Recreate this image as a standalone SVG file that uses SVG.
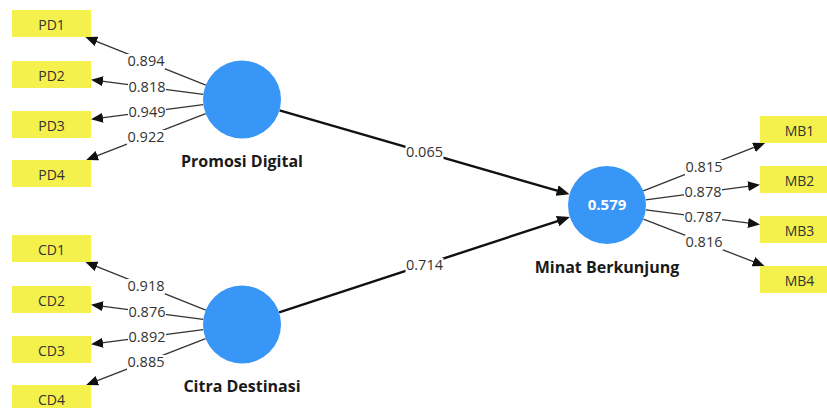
<svg xmlns="http://www.w3.org/2000/svg" width="827" height="408" viewBox="0 0 827 408">
<defs>
<style>
.ind rect{fill:#F5F14C;}
.ind text{font-family:"Open Sans","Noto Sans",sans-serif;font-size:14px;fill:#333;text-anchor:middle;}
.lv circle{fill:#3796F6;}
.lv text.name{font-family:"Open Sans","Noto Sans",sans-serif;font-size:16px;font-weight:bold;fill:#1a1a1a;text-anchor:middle;}
.lv text.r2{font-family:"Open Sans","Noto Sans",sans-serif;font-size:15px;font-weight:bold;fill:#fff;text-anchor:middle;}
.m{stroke:#333;stroke-width:1.3;fill:none;marker-end:url(#ah);}
.s{stroke:#111;stroke-width:2.4;fill:none;marker-end:url(#ahs);}
.lb rect{fill:#fff;}
.lb text{font-family:"Open Sans","Noto Sans",sans-serif;font-size:14.5px;fill:#333;text-anchor:middle;}
</style>
<marker id="ah" markerUnits="userSpaceOnUse" markerWidth="12" markerHeight="10" refX="9" refY="5" orient="auto"><path d="M0,0 L12,5 L0,10 z" fill="#111"/></marker>
<marker id="ahs" markerUnits="userSpaceOnUse" markerWidth="13" markerHeight="11" refX="9" refY="5.5" orient="auto"><path d="M0,0 L13,5.5 L0,11 z" fill="#111"/></marker>
</defs>
<rect width="827" height="408" fill="#fff"/>
<g id="connectors">
<path class="m" d="M205.8,85.05 L88.2,38.1"/>
<path class="m" d="M203.3,94.4 L94.0,80.1"/>
<path class="m" d="M203.3,104.6 L94.0,118.9"/>
<path class="m" d="M205.65,113.6 L89.0,158.9"/>
<path class="m" d="M205.8,310.05 L88.2,263.1"/>
<path class="m" d="M203.3,319.4 L94.0,305.1"/>
<path class="m" d="M203.3,329.6 L94.0,343.9"/>
<path class="m" d="M205.65,338.6 L89.0,383.9"/>
<path class="m" d="M643.3,190.8 L762.3,144.1"/>
<path class="m" d="M645.7,199.9 L757.0,185.1"/>
<path class="m" d="M645.7,209.9 L757.0,224.1"/>
<path class="m" d="M643.4,219.1 L761.8,264.9"/>
<path class="s" d="M279.5,110.3 L565.7,193.1"/>
<path class="s" d="M279.1,312.4 L566.1,218.3"/>
<g class="lb">
<rect x="127" y="54" width="38" height="15"/><text x="146" y="66">0.894</text>
<rect x="128" y="80" width="38" height="15"/><text x="147" y="92">0.818</text>
<rect x="128" y="105" width="38" height="15"/><text x="147" y="117">0.949</text>
<rect x="127" y="130" width="38" height="15"/><text x="146" y="142">0.922</text>
<rect x="127" y="279" width="38" height="15"/><text x="146" y="291">0.918</text>
<rect x="128" y="305" width="38" height="15"/><text x="147" y="317">0.876</text>
<rect x="128" y="330" width="38" height="15"/><text x="147" y="342">0.892</text>
<rect x="127" y="355" width="38" height="15"/><text x="146" y="367">0.885</text>
<rect x="685" y="160" width="38" height="15"/><text x="704" y="172">0.815</text>
<rect x="684" y="185" width="38" height="15"/><text x="703" y="197">0.878</text>
<rect x="684" y="210" width="38" height="15"/><text x="703" y="222">0.787</text>
<rect x="685" y="235" width="38" height="15"/><text x="704" y="247">0.816</text>
<rect x="405.5" y="145" width="38" height="15"/><text x="424.5" y="157">0.065</text>
<rect x="405.5" y="258" width="38" height="15"/><text x="424.5" y="270">0.714</text>
</g>
</g>
<g id="PD1" class="ind"><rect x="12" y="10" width="79" height="27"/><text x="51.5" y="30">PD1</text></g>
<g id="PD2" class="ind"><rect x="12" y="61" width="79" height="27"/><text x="51.5" y="81">PD2</text></g>
<g id="PD3" class="ind"><rect x="12" y="111" width="79" height="27"/><text x="51.5" y="131">PD3</text></g>
<g id="PD4" class="ind"><rect x="12" y="160" width="79" height="27"/><text x="51.5" y="180">PD4</text></g>
<g id="CD1" class="ind"><rect x="12" y="235" width="79" height="27"/><text x="51.5" y="255">CD1</text></g>
<g id="CD2" class="ind"><rect x="12" y="286" width="79" height="27"/><text x="51.5" y="306">CD2</text></g>
<g id="CD3" class="ind"><rect x="12" y="336" width="79" height="27"/><text x="51.5" y="356">CD3</text></g>
<g id="CD4" class="ind"><rect x="12" y="385" width="79" height="27"/><text x="51.5" y="405">CD4</text></g>
<g id="MB1" class="ind"><rect x="760" y="116" width="79" height="27"/><text x="799.5" y="136">MB1</text></g>
<g id="MB2" class="ind"><rect x="760" y="166" width="79" height="27"/><text x="799.5" y="186">MB2</text></g>
<g id="MB3" class="ind"><rect x="760" y="216" width="79" height="27"/><text x="799.5" y="236">MB3</text></g>
<g id="MB4" class="ind"><rect x="760" y="266" width="79" height="27"/><text x="799.5" y="286">MB4</text></g>
<g id="PromosiDigital" class="lv"><circle cx="242" cy="99.5" r="39"/><text class="name" x="242" y="166.5">Promosi Digital</text></g>
<g id="CitraDestinasi" class="lv"><circle cx="242" cy="324.5" r="39"/><text class="name" x="242" y="392">Citra Destinasi</text></g>
<g id="MinatBerkunjung" class="lv"><circle cx="607" cy="205" r="39"/><text class="r2" x="607" y="210">0.579</text><text class="name" x="607" y="273">Minat Berkunjung</text></g>
</svg>
